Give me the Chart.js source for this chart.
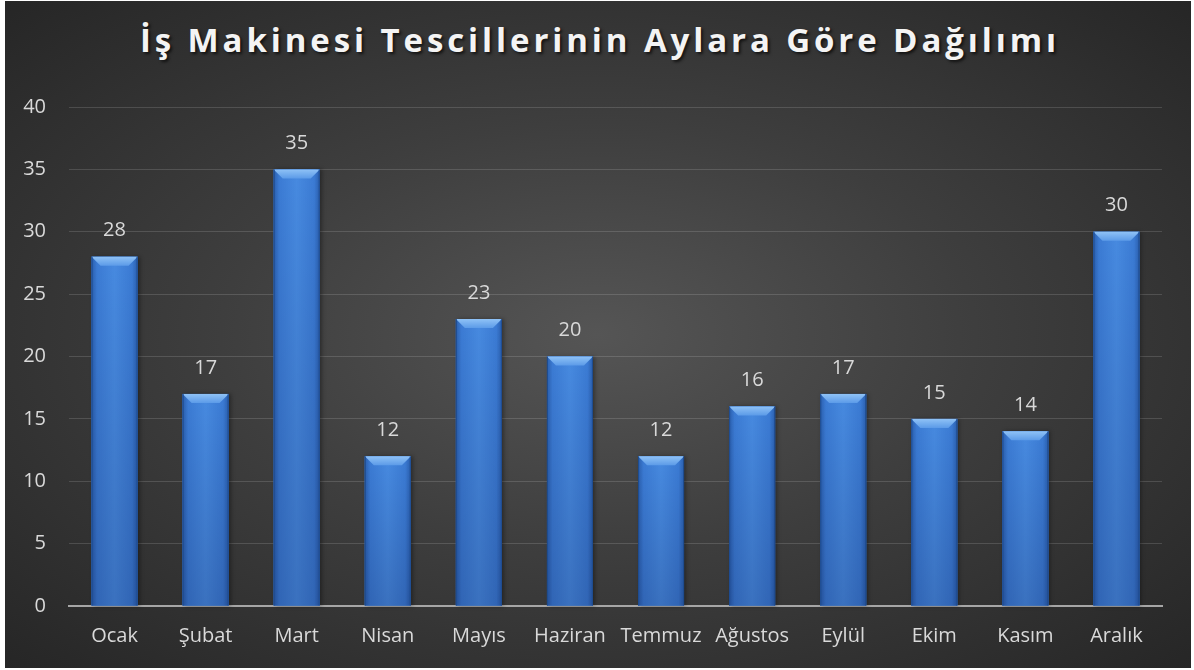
<!DOCTYPE html>
<html lang="tr">
<head>
<meta charset="utf-8">
<script src="https://cdn.jsdelivr.net/npm/chart.js@4/dist/chart.umd.min.js"></script>
<style>
  html, body { margin: 0; padding: 0; background: #ffffff; }
  body { width: 1194px; height: 670px; position: relative; overflow: hidden; }
  #frame {
    position: absolute; left: 5px; top: 1px; width: 1186px; height: 667px;
    background: radial-gradient(ellipse farthest-corner at 50% 50%, #555555 0%, #3e3e3e 45%, #262626 100%);
  }
  #title {
    position: absolute; left: 0; right: 0; top: 22px; margin: 0;
    padding-left: 4px;
    font: bold 33px "Open Sans", sans-serif; line-height: 33px;
    letter-spacing: 3.9px; color: #f4f4f4; text-align: center;
    text-shadow: 2px 2px 3px rgba(0, 0, 0, 0.65);
  }
  canvas { position: absolute; left: 0; top: 0; }
</style>
</head>
<body>
<div id="frame">
  <h1 id="title">İş Makinesi Tescillerinin Aylara Göre Dağılımı</h1>
  <canvas id="chart" width="1186" height="667"></canvas>
</div>
<script>
const months = ["Ocak", "Şubat", "Mart", "Nisan", "Mayıs", "Haziran", "Temmuz", "Ağustos", "Eylül", "Ekim", "Kasım", "Aralık"]
const registrations = [28, 17, 35, 12, 23, 20, 12, 16, 17, 15, 14, 30]
const yTicks = { min: 0, max: 40, step: 5 }

const textColor = "#d9d9d9"
const labelFont = { family: "'Open Sans', sans-serif", size: 20 }

// paints the bevelled blue look over each bar, using the bar elements' own geometry
const bevelBars = {
  id: "bevelBars",
  afterDatasetsDraw(chart) {
    const ctx = chart.ctx
    chart.getDatasetMeta(0).data.forEach(bar => {
      const left = bar.x - bar.width / 2
      const right = bar.x + bar.width / 2
      const top = bar.y
      const bottom = bar.base
      const b = 9

      ctx.save()
      ctx.shadowColor = "rgba(0,0,0,0.35)"
      ctx.shadowBlur = 4
      ctx.shadowOffsetX = 2
      ctx.fillStyle = "#3b7bd4"
      ctx.fillRect(left, top, right - left, bottom - top)
      ctx.restore()

      ctx.save()
      const h = ctx.createLinearGradient(left, 0, right, 0)
      h.addColorStop(0, "#2a5fae")
      h.addColorStop(0.12, "#3b7bd4")
      h.addColorStop(0.5, "#478ae0")
      h.addColorStop(0.88, "#3b7bd4")
      h.addColorStop(1, "#2a5fae")
      ctx.fillStyle = h
      ctx.fillRect(left, top, right - left, bottom - top)

      const v = ctx.createLinearGradient(0, top, 0, bottom)
      v.addColorStop(0, "rgba(0,0,40,0)")
      v.addColorStop(1, "rgba(0,0,40,0.18)")
      ctx.fillStyle = v
      ctx.fillRect(left, top, right - left, bottom - top)

      const t = ctx.createLinearGradient(0, top, 0, top + b)
      t.addColorStop(0, "#8fc2f6")
      t.addColorStop(1, "#5c9be8")
      ctx.fillStyle = t
      ctx.beginPath()
      ctx.moveTo(left, top)
      ctx.lineTo(right, top)
      ctx.lineTo(right - b, top + b)
      ctx.lineTo(left + b, top + b)
      ctx.closePath()
      ctx.fill()

      ctx.fillStyle = "#1f4c8f"
      ctx.fillRect(left, top, 1, bottom - top)
      ctx.fillRect(right - 1, top, 1, bottom - top)
      ctx.restore()
    })
  }
}

// value labels above the bars
const valueLabels = {
  id: "valueLabels",
  afterDatasetsDraw(chart) {
    const ctx = chart.ctx
    const data = chart.data.datasets[0].data
    ctx.save()
    ctx.font = `${labelFont.size}px ${labelFont.family}`
    ctx.fillStyle = textColor
    ctx.textAlign = "center"
    ctx.textBaseline = "middle"
    chart.getDatasetMeta(0).data.forEach((bar, i) => {
      ctx.fillText(String(data[i]), bar.x, bar.y - 26)
    })
    ctx.restore()
  }
}

new Chart(document.getElementById("chart"), {
  type: "bar",
  data: {
    labels: months,
    datasets: [{
      data: registrations,
      backgroundColor: "#3b7bd4",
      borderWidth: 0,
      categoryPercentage: 1,
      barPercentage: 0.505
    }]
  },
  options: {
    responsive: false,
    animation: false,
    layout: { padding: { top: 106, right: 29, left: 0, bottom: 0 } },
    plugins: {
      legend: { display: false },
      tooltip: { enabled: false }
    },
    scales: {
      x: {
        grid: { display: false, drawTicks: false },
        border: { display: true, color: "#a6a6a6", width: 2 },
        ticks: { color: textColor, font: labelFont, padding: 18, maxRotation: 0, autoSkip: false },
        afterFit: scale => { scale.height = 62 }
      },
      y: {
        min: yTicks.min,
        max: yTicks.max,
        grid: { color: "rgba(255,255,255,0.14)", lineWidth: 1, drawTicks: false },
        border: { display: false },
        ticks: { stepSize: yTicks.step, color: textColor, font: labelFont, padding: 23 },
        afterFit: scale => { scale.width = 64 }
      }
    }
  },
  plugins: [bevelBars, valueLabels]
})
</script>
</body>
</html>
